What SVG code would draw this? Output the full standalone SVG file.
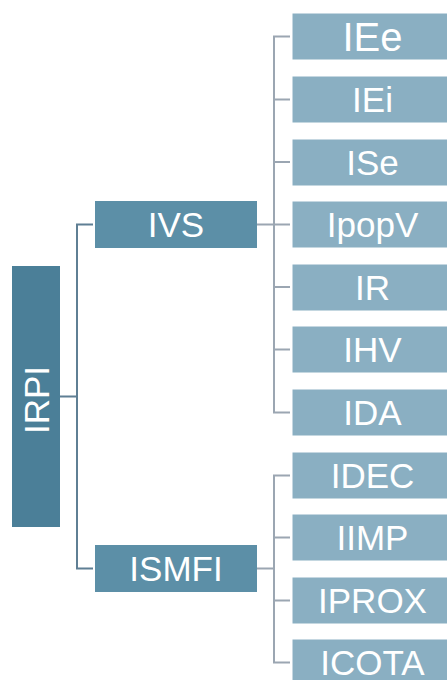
<svg xmlns="http://www.w3.org/2000/svg" width="447" height="680" viewBox="0 0 447 680">
<style>
text{font-family:"Liberation Sans",Arial,sans-serif;fill:#ffffff;text-anchor:middle;font-size:35px}
.root{fill:#4b7f98}
.mid{fill:#5c8fa7}
.leaf{fill:#8aafc2;stroke:#ffffff;stroke-width:1}
.c1{stroke:#5f7f94;stroke-width:2;fill:none}
.c2{stroke:#9ba6b2;stroke-width:2;fill:none}
</style>
<rect width="447" height="680" fill="#ffffff"/>
<g id="connectors">
<path class="c1" d="M60 396.5H77M93 224.5H77V568.5H93"/>
<path class="c2" d="M257 224.5H274M290 36.5H274V412.5H290M274 99.5H290M274 162H290M274 224.5H290M274 287H290M274 349.5H290"/>
<path class="c2" d="M257 568.5H274M290 475.5H274V662.5H290M274 537.5H290M274 600.5H290"/>
</g>
<g id="IRPI"><rect class="root" x="12" y="266" width="48" height="261"/><text transform="translate(48.5 400) rotate(-90)">IRPI</text></g>
<g id="IVS"><rect class="mid" x="95" y="201" width="162" height="47"/><text x="176" y="237">IVS</text></g>
<g id="ISMFI"><rect class="mid" x="95" y="545" width="162" height="47"/><text x="176" y="581">ISMFI</text></g>
<g id="IEe"><rect class="leaf" x="292" y="13" width="161" height="47"/><text x="372.5" y="51" style="font-size:40px">IEe</text></g>
<g id="IEi"><rect class="leaf" x="292" y="76" width="161" height="47"/><text x="372.5" y="112">IEi</text></g>
<g id="ISe"><rect class="leaf" x="292" y="139" width="161" height="47"/><text x="372.5" y="175">ISe</text></g>
<g id="IpopV"><rect class="leaf" x="292" y="201" width="161" height="47"/><text x="372.5" y="237">IpopV</text></g>
<g id="IR"><rect class="leaf" x="292" y="264" width="161" height="47"/><text x="372.5" y="300">IR</text></g>
<g id="IHV"><rect class="leaf" x="292" y="326" width="161" height="47"/><text x="372.5" y="362">IHV</text></g>
<g id="IDA"><rect class="leaf" x="292" y="389" width="161" height="47"/><text x="372.5" y="425">IDA</text></g>
<g id="IDEC"><rect class="leaf" x="292" y="452" width="161" height="47"/><text x="372.5" y="488">IDEC</text></g>
<g id="IIMP"><rect class="leaf" x="292" y="514" width="161" height="47"/><text x="372.5" y="550">IIMP</text></g>
<g id="IPROX"><rect class="leaf" x="292" y="577" width="161" height="47"/><text x="372.5" y="613">IPROX</text></g>
<g id="ICOTA"><rect class="leaf" x="292" y="639" width="161" height="47"/><text x="372.5" y="675">ICOTA</text></g>
</svg>
